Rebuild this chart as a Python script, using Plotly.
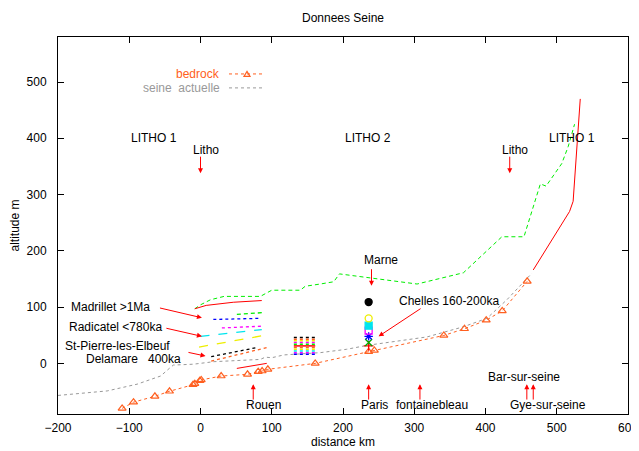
"""Profil en long de la Seine : bedrock, Seine actuelle et nappes alluviales."""
import plotly.graph_objects as go

bedrock_x = [-110, -94, -64, -43.5, -10.5, -8, -1, 1, 29, 66, 81, 86.5, 94.5,
             161, 236, 244, 341.5, 370.5, 401, 423.5, 458.5]
bedrock_y = [-80, -69, -58.5, -49.6, -38, -36, -30.7, -29.5, -22.5, -19.5, -14.7,
             -13.6, -10.6, 0, 20.7, 23, 49.6, 61.5, 76.7, 93.3, 145.8]

seine_x = [-200, -159, -131, -89, -56, -42, -38, -28, -10, 19, 46, 84, 91, 100,
           117, 168, 205, 234, 318, 369, 402, 430, 465]
seine_y = [-57, -52, -49, -37, -22.5, -7, -3, -2.5, -1.5, 3, 4.5, 7, 11, 10,
           15, 19, 25, 32, 47, 65, 80, 113, 160]

plateau_x = [-8, 0, 14, 33, 84, 100, 140, 147, 168, 187, 195, 304, 369, 423,
             454, 477, 485, 507, 516, 525]
plateau_y = [97, 104, 113, 119, 119, 130, 130, 137, 141, 145, 159, 141, 161, 225,
             225, 319, 315, 355, 385, 425]

amont_x = [467, 518, 523, 533]
amont_y = [166, 270, 288, 470]

madrillet_x = [-8, 8, 46, 86]
madrillet_y = [97, 103, 108.6, 111.6]

bas_x = [51, 93]
bas_y = [-9, 0]

# nappes (x debut, x fin) / (y debut, y fin)
nappes = {
    "vert": ([51, 86], [87, 90]),
    "bleu": ([18, 84], [78, 80]),
    "magenta": ([30, 86], [63, 66]),
    "cyan": ([0, 86], [48, 60]),
    "jaune": ([-2, 91], [29, 50]),
    "noir": ([15, 79], [12, 28]),
    "orange": ([15, 93], [4, 28]),
}

# paquet de nappes vers x = 131..161
paquet_x = [131, 161]
paquet_y = [46, 43, 40, 37, 34, 31, 28, 25, 22, 19, 16]

# Chelles (x = 236)
chelles_x = 236
chelles_y = [31, 37, 48, 58, 67, 80, 109]

# etiquettes
labels = [
    ("LITHO 1", -100, 400), ("LITHO 2", 200, 400), ("LITHO 1", 486, 400),
    ("Litho", -14, 379), ("Litho", 420, 379), ("Marne", 227, 184),
    ("Chelles 160-200ka", 276, 110), ("Madrillet >1Ma", -184, 100),
    ("Radicatel <780ka", -188, 64), ("St-Pierre-les-Elbeuf", -193, 31.5),
    ("Delamare   400ka", -163, 8.5), ("Rouen", 61, -74), ("Paris", 222, -74),
    ("fontainebleau", 271, -74), ("Bar-sur-seine", 401, -25),
    ("Gye-sur-seine", 431, -74),
]

# fleches (queue x, queue y, tete x, tete y)
arrows = [
    (0, 370, 0, 338), (434, 370, 434, 338), (240, 170, 240, 138),
    (311, 99, 250, 48), (-59, 99, 2, 81), (-50, 63, 2, 48), (-19, 20, 7, 13),
    (74, -67, 74, -37), (236, -67, 236, -37), (308, -67, 308, -37),
    (458, -67, 458, -37), (467, -67, 467, -37),
]

ORANGE = "#ff6020"
GRIS = "#999999"
FONT = "Liberation Sans"

fig = go.Figure()

fig.add_trace(go.Scatter(x=seine_x, y=seine_y, mode="lines",
                         line=dict(color=GRIS, width=1, dash="dot")))
fig.add_trace(go.Scatter(x=bedrock_x, y=bedrock_y, mode="lines+markers",
                         line=dict(color=ORANGE, width=1, dash="dot"),
                         marker=dict(symbol="triangle-up-open", size=7,
                                     color=ORANGE, line=dict(width=1.2))))
fig.add_trace(go.Scatter(x=plateau_x, y=plateau_y, mode="lines",
                         line=dict(color="#00ee00", width=1, dash="4px,3px")))
for xs, ys in [(amont_x, amont_y), (madrillet_x, madrillet_y), (bas_x, bas_y)]:
    fig.add_trace(go.Scatter(x=xs, y=ys, mode="lines",
                             line=dict(color="red", width=1)))

styles = {
    "vert": ("#00ee00", "4px,3px"), "bleu": ("#0000ff", "dot"),
    "magenta": ("#ff00ff", "dot"), "cyan": ("#00e5ee", "dash"),
    "jaune": ("#eeee00", "dash"), "noir": ("black", "dot"),
    "orange": (ORANGE, "dot"),
}
for name, (xs, ys) in nappes.items():
    c, d = styles[name]
    fig.add_trace(go.Scatter(x=xs, y=ys, mode="lines",
                             line=dict(color=c, width=1.3, dash=d)))

paquet_col = ["black", ORANGE, "#eeee00", "#ff00ff", "#00ee00", "red", ORANGE,
              "#eeee00", "#00e5ee", "#ff00ff", "#0000ff"]
for yv, c in zip(paquet_y, paquet_col):
    fig.add_trace(go.Scatter(x=paquet_x, y=[yv, yv], mode="lines",
                             line=dict(color=c, width=1.5,
                                       dash="solid" if c == "red" else "dot")))

symbols = ["cross-thin-open", "x-thin-open", "asterisk-open", "square-open",
           "square", "circle-open", "circle"]
sym_col = ["red", "#00aa00", "#0000ff", "#ff00ff", "#00e5ee", "#eeee00", "black"]
for yv, s, c in zip(chelles_y, symbols, sym_col):
    fig.add_trace(go.Scatter(x=[chelles_x], y=[yv], mode="markers",
                             marker=dict(symbol=s, size=7, color=c,
                                         line=dict(color=c, width=1.3))))

for txt, x, y in labels:
    fig.add_annotation(x=x, y=y, text=txt, showarrow=False, xanchor="left",
                       yanchor="middle", font=dict(family=FONT, size=12, color="black"))
for x0, y0, x1, y1 in arrows:
    fig.add_annotation(x=x1, y=y1, ax=x0, ay=y0, axref="x", ayref="y", text="",
                       showarrow=True, arrowhead=2, arrowsize=1, arrowwidth=1,
                       arrowcolor="red")

# legende facon gnuplot (texte a gauche, echantillon a droite)
for txt, col, yp in [("bedrock", ORANGE, 0.902), ("seine  actuelle", GRIS, 0.865)]:
    fig.add_annotation(x=0.288, y=yp, xref="paper", yref="paper", text=txt,
                       showarrow=False, xanchor="right", yanchor="middle",
                       font=dict(family=FONT, size=12, color=col))
    fig.add_shape(type="line", xref="paper", yref="paper", x0=0.30, x1=0.36,
                  y0=yp, y1=yp, line=dict(color=col, width=1, dash="dot"))
fig.add_shape(type="path", xref="paper", yref="paper",
              path="M 0.3263,0.8955 L 0.3369,0.8955 L 0.3316,0.9088 Z",
              line=dict(color=ORANGE, width=1.2), fillcolor="rgba(0,0,0,0)")

axis = dict(showline=True, linecolor="black", linewidth=1, mirror="ticks",
            ticks="inside", ticklen=6, tickcolor="black", showgrid=False,
            zeroline=False, automargin=False,
            tickfont=dict(family=FONT, size=12, color="black"))
fig.update_xaxes(range=[-200, 600], dtick=100, ticklabelstandoff=3,
                 ticklabeloverflow="allow", **axis,
                 title=dict(text="distance km", standoff=1,
                            font=dict(family=FONT, size=12, color="black")))
fig.update_yaxes(range=[-90, 580], tickvals=[0, 100, 200, 300, 400, 500],
                 ticklabelstandoff=8, **axis,
                 title=dict(text="altitude m", standoff=6,
                            font=dict(family=FONT, size=12, color="black")))
# la page ajoute une marge de 8 px : la figure est decalee d'autant
fig.update_layout(
    width=647, height=443, showlegend=False,
    margin=dict(l=50, r=27, t=29, b=37),
    paper_bgcolor="white", plot_bgcolor="white",
    title=dict(text="Donnees Seine", xref="paper", x=0.5, xanchor="center",
               y=1 - 10 / 443, yanchor="middle",
               font=dict(family=FONT, size=12, color="black")),
)

fig.write_html("out.html")
